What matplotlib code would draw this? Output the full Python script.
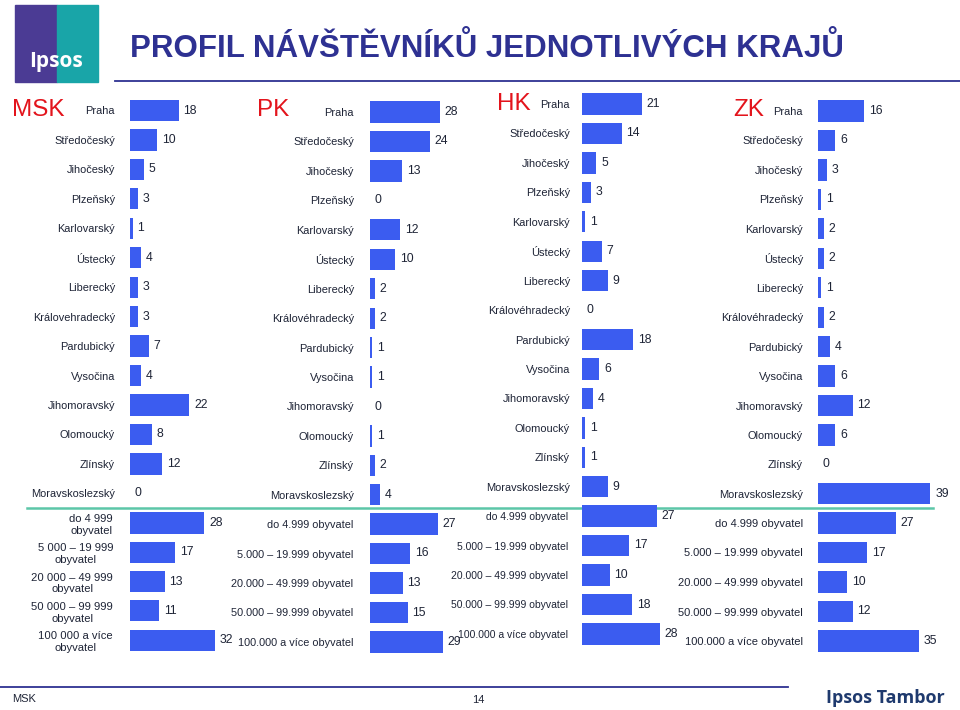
import matplotlib.pyplot as plt
from matplotlib.patches import Rectangle

plt.rcParams['font.family'] = ['Liberation Sans', 'DejaVu Sans']

W, H = 960, 710
BLUE = '#3b5cf0'
TXT = '#1e2436'
RED = '#e3141c'
NAVY = '#2e3192'

# data
kraje = ['Praha', 'Středočeský', 'Jihočeský', 'Plzeňský', 'Karlovarský', 'Ústecký',
         'Liberecký', 'Královéhradecký', 'Pardubický', 'Vysočina', 'Jihomoravský',
         'Olomoucký', 'Zlínský', 'Moravskoslezský']
kraje_msk = kraje[:7] + ['Královehradecký'] + kraje[8:]
msk = [18, 10, 5, 3, 1, 4, 3, 3, 7, 4, 22, 8, 12, 0]
pk = [28, 24, 13, 0, 12, 10, 2, 2, 1, 1, 0, 1, 2, 4]
hk = [21, 14, 5, 3, 1, 7, 9, 0, 18, 6, 4, 1, 1, 9]
zk = [16, 6, 3, 1, 2, 2, 1, 2, 4, 6, 12, 6, 0, 39]

velikost = ['do 4.999 obyvatel', '5.000 – 19.999 obyvatel', '20.000 – 49.999 obyvatel',
            '50.000 – 99.999 obyvatel', '100.000 a více obyvatel']
velikost_msk = ['do 4 999\nobyvatel', '5 000 – 19 999\nobyvatel', '20 000 – 49 999\nobyvatel',
                '50 000 – 99 999\nobyvatel', '100 000 a více\nobyvatel']
msk_pop = [28, 17, 13, 11, 32]
pk_pop = [27, 16, 13, 15, 29]
hk_pop = [27, 17, 10, 18, 28]
zk_pop = [27, 17, 10, 12, 35]

fig = plt.figure(figsize=(9.6, 7.1), dpi=100)

# background axes in pixel coords for decorations
bg = fig.add_axes([0, 0, 1, 1])
bg.set_xlim(0, W)
bg.set_ylim(H, 0)
bg.axis('off')


def panel(x0, y_first, pitch, scale, labels, values, gap, multi=False, width_px=150, fs=7.9):
    n = len(values)
    top = y_first - pitch / 2
    h = n * pitch
    ax = fig.add_axes([x0 / W, 1 - (top + h) / H, width_px / W, h / H])
    bars = ax.barh(range(n), values, height=0.72, color=BLUE, linewidth=0)
    ax.set_xlim(0, width_px / scale)
    ax.set_ylim(n - 0.5, -0.5)
    ax.set_yticks(range(n), labels)
    ax.set_xticks([])
    ax.tick_params(axis='y', length=0, pad=gap * 0.72, labelsize=fs, labelcolor=TXT)
    if multi:
        for t in ax.get_yticklabels():
            t.set_multialignment('center')
            t.set_linespacing(1.2)
    for s in ax.spines.values():
        s.set_visible(False)
    ax.patch.set_visible(False)
    ax.bar_label(bars, padding=3.5, fontsize=8.8, color=TXT)
    return ax


# MSK
panel(130, 110.5, 29.45, 2.7, kraje_msk, msk, 15)
panel(130, 523, 29.3, 2.66, velikost_msk, msk_pop, 17, multi=True, fs=8.1)
# PK
panel(370, 112, 29.45, 2.49, kraje, pk, 16)
panel(370, 524, 29.5, 2.5, velikost, pk_pop, 17, fs=7.8)
# HK
panel(582, 104, 29.45, 2.84, kraje, hk, 12)
panel(582, 516, 29.5, 2.77, velikost, hk_pop, 14, fs=7.5)
# ZK
panel(818, 111, 29.45, 2.88, kraje, zk, 15)
panel(818, 523, 29.5, 2.88, velikost, zk_pop, 15, fs=8.0)

# panel titles
for name, x, y in [('MSK', 12, 110), ('PK', 257, 110), ('HK', 497, 104), ('ZK', 733, 110)]:
    bg.text(x, y, name, color=RED, fontsize=17.5, ha='left', va='center')

# separator line
bg.plot([27, 933], [508, 508], color='#5cc6a8', lw=1.8)

# title
bg.text(130, 49, 'PROFIL NÁVŠTĚVNÍKŮ JEDNOTLIVÝCH KRAJŮ', color=NAVY, fontsize=22.5,
        fontweight='bold', ha='left', va='center')
bg.plot([115, 960], [81, 81], color=NAVY, lw=1.3)

# logo
bg.add_patch(Rectangle((15, 5), 42, 77, color='#4b3b94'))
bg.add_patch(Rectangle((57, 5), 41, 77, color='#19a5a8'))
bg.text(56, 62, 'Ipsos', color='white', fontsize=15, fontweight='bold',
        ha='center', va='center', family=['Open Sans', 'DejaVu Sans'])

# footer
bg.plot([0, 788], [687, 687], color=NAVY, lw=1.3)
bg.text(12, 699, 'MSK', color=TXT, fontsize=8, ha='left', va='center')
bg.text(478, 700, '14', color=TXT, fontsize=8, ha='center', va='center')
bg.text(945, 698, 'Ipsos Tambor', color='#1f3a6e', fontsize=13, fontweight='bold',
        ha='right', va='center', family=['Open Sans', 'DejaVu Sans'])

fig.savefig('out.png', dpi=100)
